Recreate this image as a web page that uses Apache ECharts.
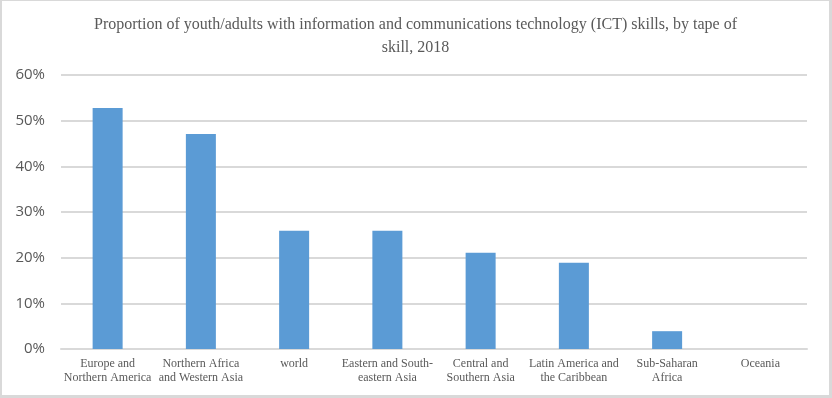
<!DOCTYPE html>
<html>
<head>
<meta charset="utf-8">
<script src="https://cdn.jsdelivr.net/npm/echarts@6/dist/echarts.min.js"></script>
<style>
  html, body { margin: 0; padding: 0; background: #fff; }
  #chart { width: 832px; height: 398px; box-sizing: border-box;
           border-style: solid; border-color: #d9d9d9;
           border-width: 1px 3px 3px 2px; }
</style>
</head>
<body>
<div id="chart"></div>
<script>
var categories = ['Europe and\nNorthern America', 'Northern Africa\nand Western Asia', 'world',
    'Eastern and South-\neastern Asia', 'Central and\nSouthern Asia', 'Latin America and\nthe Caribbean',
    'Sub-Saharan\nAfrica', 'Oceania'];
var values = [52.8, 47.1, 25.9, 25.9, 21.1, 18.9, 3.9, 0];
var titleText = 'Proportion of youth/adults with information and communications technology (ICT) skills, by tape of\nskill, 2018';

var chart = echarts.init(document.getElementById('chart'));
var option = {
    backgroundColor: '#fff',
    animation: false,
    title: {
        text: titleText,
        left: 'center',
        top: 7,
        textStyle: {
            fontFamily: 'Liberation Serif',
            fontWeight: 'normal',
            fontSize: 16,
            color: '#595959',
            lineHeight: 23
        }
    },
    grid: {
        left: 59,
        right: 22,
        top: 74,
        bottom: 46
    },
    xAxis: {
        type: 'category',
        data: categories,
        axisLine: { lineStyle: { color: '#d9d9d9', width: 2 } },
        axisTick: { show: false },
        axisLabel: {
            interval: 0,
            margin: 8,
            fontFamily: 'Liberation Serif',
            fontSize: 12,
            color: '#595959',
            lineHeight: 14
        }
    },
    yAxis: {
        type: 'value',
        min: 0,
        max: 60,
        interval: 10,
        axisLine: { show: false },
        axisTick: { show: false },
        splitLine: { lineStyle: { color: '#d9d9d9', width: 2 } },
        axisLabel: {
            formatter: '{value}%',
            margin: 16,
            fontFamily: 'Open Sans',
            fontSize: 15,
            color: '#595959'
        }
    },
    series: [{
        type: 'bar',
        data: values,
        barWidth: 30,
        itemStyle: { color: '#5b9bd5' }
    }]
};
chart.setOption(option);
</script>
</body>
</html>
